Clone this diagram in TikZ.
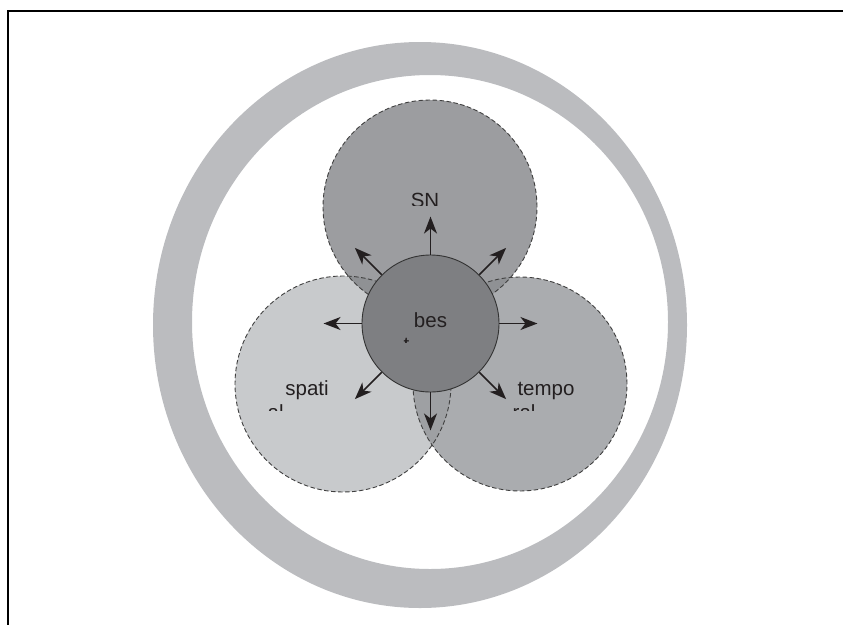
\documentclass[tikz,border=0pt]{standalone}
\usepackage{fontspec}
\setmainfont{Liberation Sans}
\usetikzlibrary{arrows.meta}
\definecolor{ringgrey}{HTML}{BBBCBF}
\definecolor{topc}{HTML}{9C9DA0}
\definecolor{leftc}{HTML}{C8CACC}
\definecolor{rightc}{HTML}{AAACAF}
\definecolor{lensc}{HTML}{8F9194}
\definecolor{lenslr}{HTML}{9EA0A3}
\definecolor{corec}{HTML}{7E7F82}
\definecolor{inkc}{HTML}{231F20}
\tikzset{
  dashedge/.style={draw=black!75, line width=0.9pt, dash pattern=on 4.5pt off 2.5pt},
  arr/.style={draw=inkc, line width=1.7pt, -{Stealth[length=17pt,width=13pt,inset=5pt]}},
  lbl/.style={text=inkc, font=\fontsize{20.5pt}{24pt}\selectfont, inner sep=0pt, anchor=base},
  lblw/.style={lbl, anchor=base west}
}
\begin{document}
\begin{tikzpicture}[x=1pt,y=-1pt]
\useasboundingbox (0,0) rectangle (843,624);
% frame
\draw[line width=1.3pt, line cap=rect] (8,624) -- (8,11) -- (843,11);
% ring
\fill[ringgrey, even odd rule] (420,325) ellipse [x radius=267pt, y radius=283pt]
  (430,322) ellipse [x radius=238pt, y radius=247pt];
% circle centres
\coordinate (cl) at (343,384);
\coordinate (cr) at (520,384);
\coordinate (ct) at (430,207);
% fills
\fill[leftc] (cl) circle[radius=108pt];
\fill[rightc] (cr) circle[radius=107pt];
\fill[topc] (ct) circle[radius=107pt];
% lenses
\begin{scope}
  \clip (cl) circle[radius=108pt];
  \fill[lenslr] (cr) circle[radius=107pt];
\end{scope}
\begin{scope}
  \clip (ct) circle[radius=107pt];
  \fill[lensc] (cl) circle[radius=108pt];
  \fill[lensc] (cr) circle[radius=107pt];
\end{scope}
% dashed outlines
\draw[dashedge] (cl) circle[radius=108pt];
\draw[dashedge] (cr) circle[radius=107pt];
\draw[dashedge] (ct) circle[radius=107pt];
% core
\node[circle, fill=corec, draw=black!80, line width=0.9pt, minimum size=137pt, inner sep=0pt] (core) at (430.5,323.5) {};
% arrows
\foreach \a in {0,45,90,135,180,225,270,315}{
  \draw[arr] (core.\a) -- ++(\a:38pt);
}
% labels
\begin{scope}
  \clip (380,180) rectangle (480,205.5);
  \node[lbl] (sn) at (425,207) {SN};
\end{scope}
\node[lbl] (bes) at (430.5,327) {bes};
\begin{scope}
  \clip (395,330) rectangle (420,342);
  \node[lblw] (besb) at (403.5,351.5) {t};
\end{scope}
\node[lbl] (spati) at (307,395) {spati};
\begin{scope}
  \clip (260,400) rectangle (300,410.5);
  \node[lblw] (spatib) at (267.5,419) {al};
\end{scope}
\node[lbl] (tempo) at (546,395) {tempo};
\begin{scope}
  \clip (505,400) rectangle (545,410.5);
  \node[lblw] (tempob) at (512.5,419) {ral};
\end{scope}
\end{tikzpicture}
\end{document}
